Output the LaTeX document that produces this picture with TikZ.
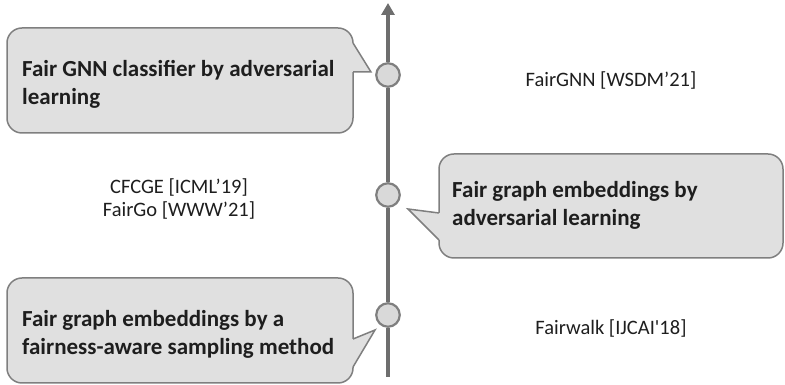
\documentclass[tikz,border=0pt]{standalone}
\usepackage{fontspec}
\setmainfont{Carlito}[Ligatures=TeXOff]
\usetikzlibrary{arrows.meta}

\definecolor{bubblegray}{HTML}{E0E0E0}
\definecolor{edgegray}{HTML}{7F7F7F}
\definecolor{axisgray}{HTML}{6E6E6E}
\definecolor{dotgray}{HTML}{D9D9D9}
\definecolor{inkgray}{HTML}{1E1E1E}

\begin{document}
\begin{tikzpicture}[x=1pt,y=1pt,
	bubble/.style={draw=edgegray, fill=bubblegray, line width=1.5pt, rounded corners=15pt, inner sep=0pt},
	pointer/.style={draw=edgegray, line width=1.5pt, line join=miter},
	milestone/.style={circle, draw=edgegray, fill=dotgray, line width=2.2pt, minimum size=23.5pt, inner sep=0pt},
	timeline/.style={draw=axisgray, line width=4pt, -{Triangle[width=13pt,length=12pt]}},
	bubbletext/.style={font=\bfseries\fontsize{23}{28}\selectfont, align=left, inner sep=0pt, text=inkgray, anchor=west},
	plaintext/.style={font=\fontsize{20.5}{23.5}\selectfont, inner sep=0pt, text=inkgray}]
	\useasboundingbox (0,0) rectangle (785,385);
	%callout boxes
		\node[bubble, minimum width=346pt, minimum height=105pt] (box1) at (180,304.5) {};
		\node[bubble, minimum width=344pt, minimum height=104pt] (box2) at (611,179) {};
		\node[bubble, minimum width=346pt, minimum height=105pt] (box3) at (180,54.5) {};
	%pointers of the boxes
		\fill[bubblegray] (351,342) -- (353,342) -- (371,313) -- (351,313) -- cycle;
		\draw[pointer] (353,342) -- (371,313) -- (353,313);
		\fill[bubblegray] (441,172) -- (439,172) -- (408,176) -- (439,145) -- (441,145) -- cycle;
		\draw[pointer] (439,172) -- (408,176) -- (439,145);
		\fill[bubblegray] (351,46) -- (353,46) -- (375,55) -- (353,18) -- (351,18) -- cycle;
		\draw[pointer] (353,46) -- (375,55) -- (353,18);
	%timeline + milestones
		\coordinate (tlstart) at (388,8);
		\coordinate (tlend) at (388,382);
		\node[milestone] (m1) at (388,310) {};
		\node[milestone] (m2) at (388,190) {};
		\node[milestone] (m3) at (388,70) {};
		\draw[timeline] (tlstart) -- (m3) -- (m2) -- (m1) -- (tlend);
	%box texts
		\node[bubbletext] (fgnn) at (22,301) {Fair GNN classifier by adversarial\\learning};
		\node[bubbletext] (fadv) at (452,180) {Fair graph embeddings by\\adversarial learning};
		\node[bubbletext] (fsmp) at (22,51) {Fair graph embeddings by a\\fairness-aware sampling method};
	%methods
		\node[plaintext, anchor=base] (fairgnn) at (611,298.3) {FairGNN [WSDM’21]};
		\node[plaintext, align=center] (cfcge) at (179,186) {CFCGE [ICML’19]\\FairGo [WWW’21]};
		\node[plaintext, anchor=base] (fairwalk) at (611,50) {Fairwalk [IJCAI'18]};
\end{tikzpicture}
\end{document}
